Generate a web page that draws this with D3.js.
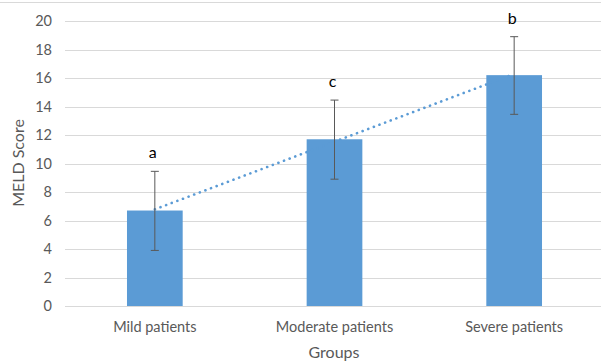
<!DOCTYPE html>
<html>
<head>
<meta charset="utf-8">
<script src="https://cdn.jsdelivr.net/npm/d3@7"></script>
<style>
  body { margin: 0; background: #fff; }
  svg { display: block; font-family: Lato, "Open Sans", sans-serif; }
</style>
</head>
<body>
<div id="chart"></div>
<script>
// Data
const groups = ["Mild patients", "Moderate patients", "Severe patients"];
const meldMeans = [6.7, 11.7, 16.2];
const errLow = [3.9, 8.9, 13.45];
const errHigh = [9.45, 14.45, 18.9];
const sigLetters = ["a", "c", "b"];
const yTicks = [0, 2, 4, 6, 8, 10, 12, 14, 16, 18, 20];

const width = 601;
const height = 362;

const svg = d3.select("#chart").append("svg")
  .attr("width", width)
  .attr("height", height);

// chart frame line at top
svg.append("line")
  .attr("x1", 0).attr("x2", width)
  .attr("y1", 2.5).attr("y2", 2.5)
  .attr("stroke", "#d9d9d9");

const x = d3.scaleBand()
  .domain(groups)
  .range([65, 604])
  .paddingInner(0.69)
  .paddingOuter(0.345);

const y = d3.scaleLinear()
  .domain([0, 20])
  .range([306, 21]);

// gridlines
svg.append("g")
  .selectAll("line")
  .data(yTicks)
  .join("line")
  .attr("x1", 65).attr("x2", width)
  .attr("y1", d => Math.round(y(d)) + 0.5)
  .attr("y2", d => Math.round(y(d)) + 0.5)
  .attr("stroke", "#d9d9d9")
  .attr("stroke-width", 1);

// y tick labels
svg.append("g")
  .selectAll("text")
  .data(yTicks)
  .join("text")
  .attr("x", 52)
  .attr("y", d => y(d))
  .attr("dy", "0.35em")
  .attr("text-anchor", "end")
  .attr("font-size", "14.5px")
  .attr("fill", "#595959")
  .text(d => d);

// bars
svg.append("g")
  .selectAll("rect")
  .data(groups)
  .join("rect")
  .attr("x", d => x(d))
  .attr("y", (d, i) => y(meldMeans[i]))
  .attr("width", x.bandwidth())
  .attr("height", (d, i) => y(0) - y(meldMeans[i]))
  .attr("fill", "#5b9bd5");

// linear trendline through the means
const xs = groups.map((d, i) => i + 1);
const mx = d3.mean(xs);
const my = d3.mean(meldMeans);
const slope = d3.sum(xs, (v, i) => (v - mx) * (meldMeans[i] - my)) / d3.sum(xs, v => (v - mx) ** 2);
const icpt = my - slope * mx;
const cx = i => x(groups[i]) + x.bandwidth() / 2;

svg.append("line")
  .attr("x1", cx(0)).attr("y1", y(icpt + slope * 1))
  .attr("x2", cx(2)).attr("y2", y(icpt + slope * 3))
  .attr("stroke", "#5b9bd5")
  .attr("stroke-width", 2.6)
  .attr("stroke-linecap", "round")
  .attr("stroke-dasharray", "0.1 5.9");

// error bars
const err = svg.append("g").attr("stroke", "#595959").attr("stroke-width", 1);
groups.forEach((g, i) => {
  const c = cx(i);
  err.append("line")
    .attr("x1", c).attr("x2", c)
    .attr("y1", y(errHigh[i])).attr("y2", y(errLow[i]));
  [errHigh[i], errLow[i]].forEach(v => {
    err.append("line")
      .attr("x1", c - 4).attr("x2", c + 4)
      .attr("y1", y(v)).attr("y2", y(v));
  });
});

// significance letters
svg.append("g")
  .selectAll("text")
  .data(groups)
  .join("text")
  .attr("x", d => x(d) + x.bandwidth() / 2 - 2)
  .attr("y", (d, i) => y(errHigh[i]) - 13)
  .attr("text-anchor", "middle")
  .attr("font-size", "16px")
  .attr("fill", "#000")
  .text((d, i) => sigLetters[i]);

// x category labels
svg.append("g")
  .selectAll("text")
  .data(groups)
  .join("text")
  .attr("x", d => x(d) + x.bandwidth() / 2)
  .attr("y", 327)
  .attr("dy", "0.35em")
  .attr("text-anchor", "middle")
  .attr("font-size", "14.5px")
  .attr("fill", "#595959")
  .text(d => d);

// axis titles
svg.append("text")
  .attr("x", 334)
  .attr("y", 352)
  .attr("dy", "0.35em")
  .attr("text-anchor", "middle")
  .attr("font-size", "16px")
  .attr("fill", "#595959")
  .text("Groups");

svg.append("text")
  .attr("transform", "translate(18,163) rotate(-90)")
  .attr("dy", "0.35em")
  .attr("text-anchor", "middle")
  .attr("font-size", "16px")
  .attr("fill", "#595959")
  .text("MELD Score");
</script>
</body>
</html>
